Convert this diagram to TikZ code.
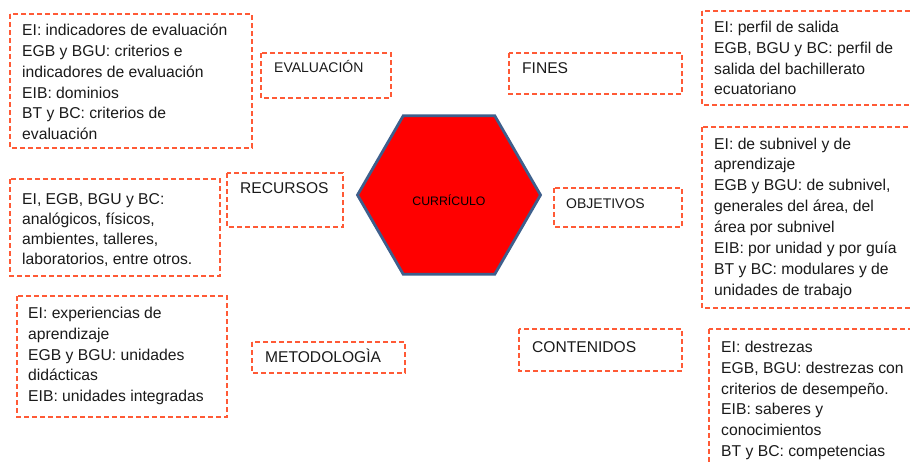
\documentclass[tikz,border=0pt]{standalone}
\usepackage{fontspec}
\setmainfont{Liberation Sans}
\usetikzlibrary{shapes.geometric}
\definecolor{dashc}{HTML}{FF5A36}
\definecolor{hexb}{HTML}{3E5F8C}
\definecolor{txtc}{HTML}{1A1A1A}
\tikzset{
  dbox/.style={draw=dashc, line width=1.3pt, dash pattern=on 5pt off 3pt},
  listtxt/.style={anchor=north west, inner sep=0pt, align=left, text=txtc,
    font=\fontsize{15.7}{20.8}\selectfont},
  labtxt/.style={anchor=base west, inner sep=0pt, text=txtc,
    font=\fontsize{15.6}{18}\selectfont},
  labsmall/.style={anchor=base west, inner sep=0pt, text=txtc,
    font=\fontsize{14}{17}\selectfont},
  hexa/.style={regular polygon, regular polygon sides=6, minimum size=183pt,
    inner sep=0pt, fill=red, draw=hexb, line width=2.8pt}
}
\begin{document}
\begin{tikzpicture}[x=1pt,y=-1pt]
\useasboundingbox (0,0) rectangle (910,461);
\clip (0,0) rectangle (910,461);
% central hexagon
\node[hexa] (hex) at (449,195) {};
\node[anchor=base, inner sep=0pt, text=black, font=\fontsize{12.3}{14}\selectfont] (curr) at (449,205.4) {CURRÍCULO};

% left side
\draw[dbox] (10,14) rectangle (252,148);
\node[listtxt] (evaltxt) at (22,20.94) {\strut EI: indicadores de evaluación\\EGB y BGU: criterios e\\indicadores de evaluación\\EIB: dominios\\BT y BC: criterios de\\evaluación};
\draw[dbox] (261,53) rectangle (391,98);
\node[labsmall] (eval) at (274,72) {EVALUACIÓN};

\draw[dbox] (10,179) rectangle (220,276);
\node[listtxt, font=\fontsize{15.7}{20}\selectfont] (rectxt) at (22,189.8) {\strut EI, EGB, BGU y BC:\\analógicos, físicos,\\ambientes, talleres,\\laboratorios, entre otros.};
\draw[dbox] (227,173) rectangle (343,227);
\node[labtxt] (rec) at (240,193.6) {RECURSOS};

\draw[dbox] (17,296) rectangle (227,417);
\node[listtxt] (mettxt) at (28,303.74) {\strut EI: experiencias de\\aprendizaje\\EGB y BGU: unidades\\didácticas\\EIB: unidades integradas};
\draw[dbox] (252,342) rectangle (405,373);
\node[labtxt] (met) at (265,362.6) {METODOLOGÌA};

% right side
\draw[dbox] (509,53) rectangle (682,94);
\node[labtxt] (fin) at (522,73.6) {FINES};
\draw[dbox] (702,11) rectangle (920,105);
\node[listtxt] (fintxt) at (714,17.64) {\strut EI: perfil de salida\\EGB, BGU y BC: perfil de\\salida del bachillerato\\ecuatoriano};

\draw[dbox] (554,188) rectangle (682,227);
\node[labsmall] (obj) at (566,208) {OBJETIVOS};
\draw[dbox] (702,127) rectangle (920,308);
\node[listtxt, font=\fontsize{15.7}{20.95}\selectfont] (objtxt) at (714,134.13) {\strut EI: de subnivel y de\\aprendizaje\\EGB y BGU: de subnivel,\\generales del área, del\\área por subnivel\\EIB: por unidad y por guía\\BT y BC: modulares y de\\unidades de trabajo};

\draw[dbox] (519,329) rectangle (682,371);
\node[labtxt] (con) at (532,352.6) {CONTENIDOS};
\draw[dbox] (709,329) rectangle (920,480);
\node[listtxt] (contxt) at (721,337.64) {\strut EI: destrezas\\EGB, BGU: destrezas con\\criterios de desempeño.\\EIB: saberes y\\conocimientos\\BT y BC: competencias};
\end{tikzpicture}
\end{document}
